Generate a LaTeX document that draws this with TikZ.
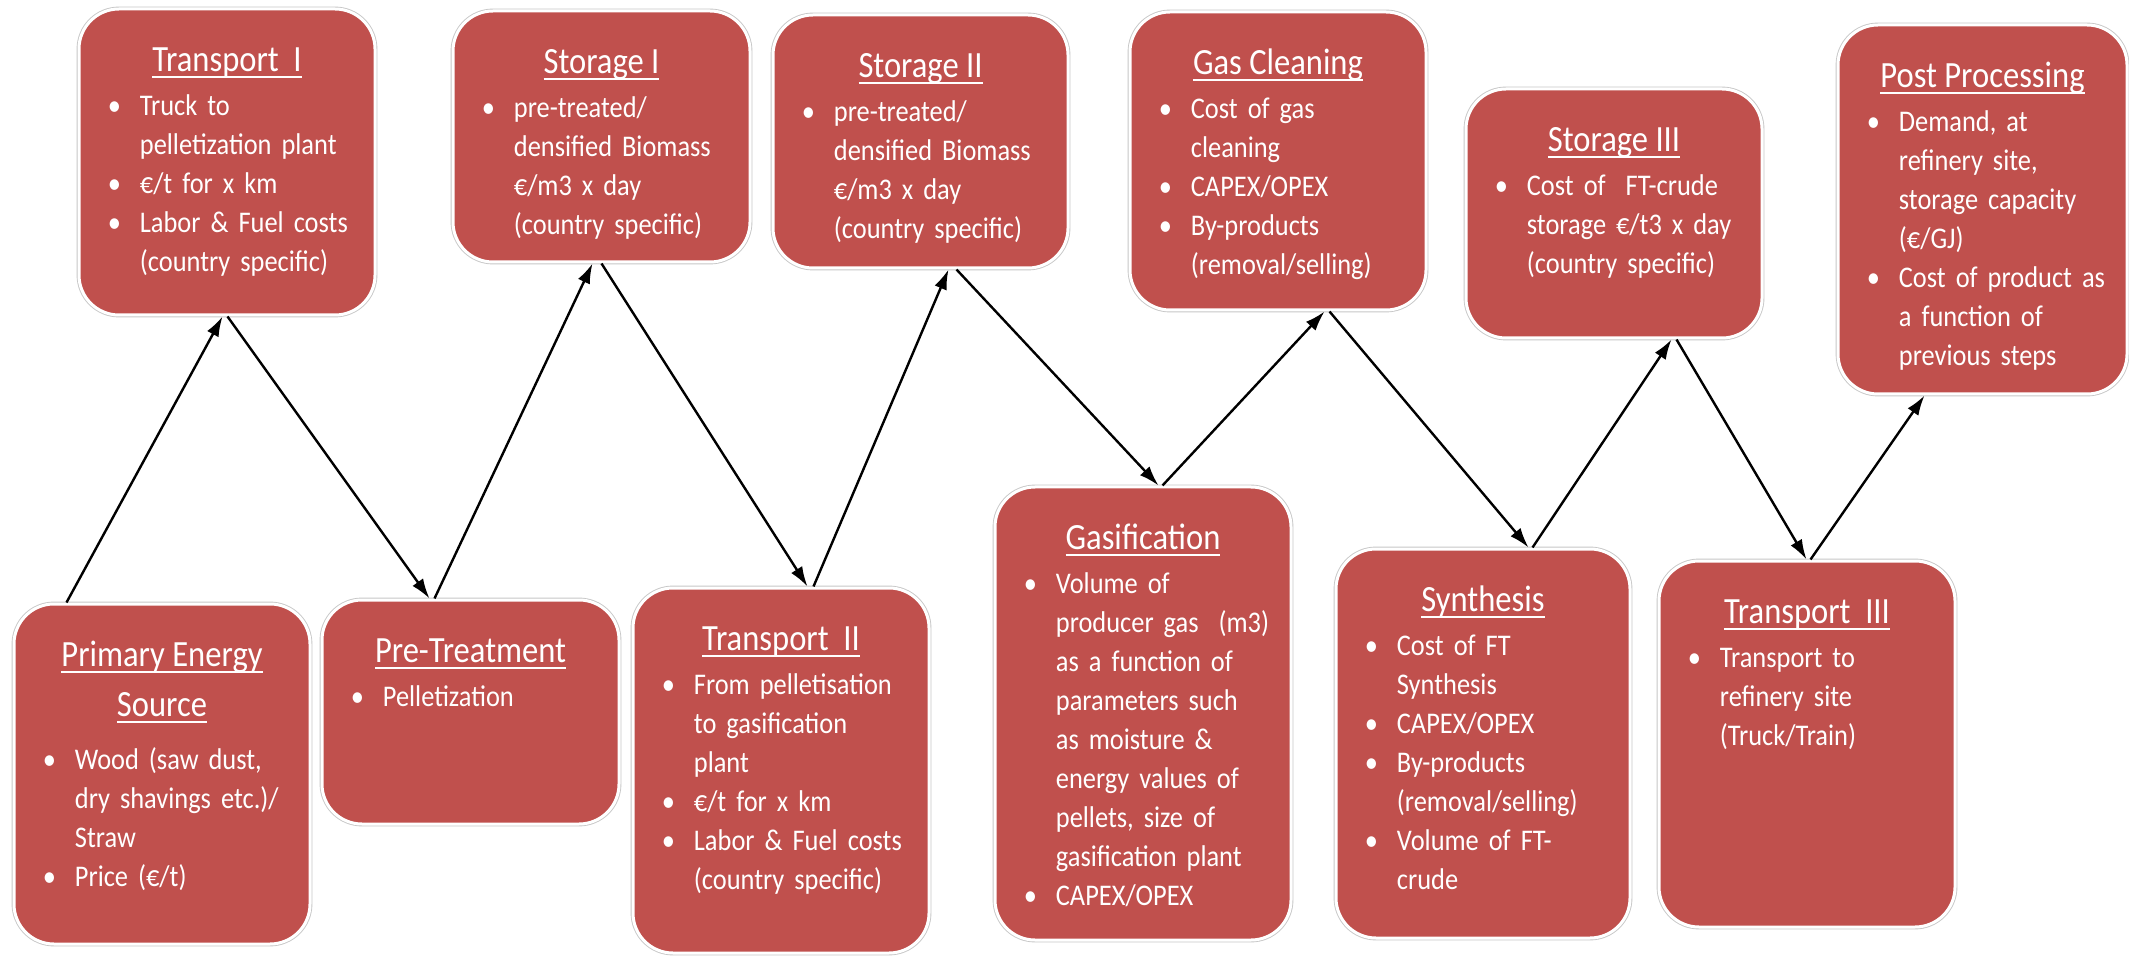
\documentclass[tikz,border=0pt]{standalone}
\usepackage{fontspec}
\setmainfont{Carlito}[FakeStretch=0.88]
\usetikzlibrary{arrows.meta,calc}
\definecolor{boxred}{HTML}{C0504D}
\newcommand{\uln}[1]{\setbox0\hbox{#1}\rlap{\rule[-3pt]{\wd0}{1pt}}\box0}
\newcommand{\bit}[1]{\par\noindent\makebox[16pt][l]{\strut•}\parbox[t]{120pt}{\strut#1\strut}\par\prevdepth=\dp\strutbox}
\tikzset{
  box/.style={draw=white, line width=1.5pt, fill=boxred, rounded corners=20pt,
    preaction={draw=black!22, line width=2.4pt}, inner sep=0pt},
  ttl/.style={text=white, font=\fontsize{18.5pt}{25pt}\selectfont, anchor=north, inner sep=0pt, align=center},
  body/.style={text=white, font=\fontsize{15pt}{19.5pt}\selectfont, anchor=north west, inner sep=0pt, text width=136pt, align=left},
  arr/.style={-{Latex[length=10pt,width=6.5pt]}, line width=1.2pt, black}
}
\begin{document}
\begin{tikzpicture}[x=0.5pt,y=-0.5pt]
\useasboundingbox (0,0) rectangle (2129,956);
% boxes
\node[box, minimum width=148pt, minimum height=170pt] (pes) at (162,774) {};
\node[box, minimum width=148pt, minimum height=153pt] (t1) at (227,162) {};
\node[box, minimum width=148.5pt, minimum height=112pt] (pt) at (470.5,712) {};
\node[box, minimum width=148.5pt, minimum height=125.5pt] (s1) at (601.5,136.5) {};
\node[box, minimum width=148pt, minimum height=182.5pt] (t2) at (781,770.5) {};
\node[box, minimum width=147.5pt, minimum height=126.5pt] (s2) at (920.5,141.5) {};
\node[box, minimum width=148pt, minimum height=226.5pt] (gas) at (1143,713.5) {};
\node[box, minimum width=148pt, minimum height=149pt] (gc) at (1278,161) {};
\node[box, minimum width=147pt, minimum height=194.5pt] (syn) at (1483,743.5) {};
\node[box, minimum width=148pt, minimum height=124.5pt] (s3) at (1614,213.5) {};
\node[box, minimum width=148pt, minimum height=183pt] (t3) at (1807,744) {};
\node[box, minimum width=144.5pt, minimum height=184.5pt] (pp) at (1982.5,209.5) {};
% titles
\node[ttl] (pesT) at ($(pes.north)+(0,29)$) {\strut\uln{Primary Energy}\\\strut\uln{Source}};
\node[ttl] (t1T) at ($(t1.north)+(0,29)$) {\strut\uln{Transport\ \ I}};
\node[ttl] (ptT) at ($(pt.north)+(0,29)$) {\strut\uln{Pre-Treatment}};
\node[ttl] (s1T) at ($(s1.north)+(0,29)$) {\strut\uln{Storage I}};
\node[ttl] (t2T) at ($(t2.north)+(0,29)$) {\strut\uln{Transport\ \ II}};
\node[ttl] (s2T) at ($(s2.north)+(0,29)$) {\strut\uln{Storage II}};
\node[ttl] (gasT) at ($(gas.north)+(0,29)$) {\strut\uln{Gasification}};
\node[ttl] (gcT) at ($(gc.north)+(0,29)$) {\strut\uln{Gas Cleaning}};
\node[ttl] (synT) at ($(syn.north)+(0,29)$) {\strut\uln{Synthesis}};
\node[ttl] (s3T) at ($(s3.north)+(0,29)$) {\strut\uln{Storage III}};
\node[ttl] (t3T) at ($(t3.north)+(0,29)$) {\strut\uln{Transport\ \ III}};
\node[ttl] (ppT) at ($(pp.north)+(0,29)$) {\strut\uln{Post Processing}};
% bodies
\node[body] (pesB) at ($(pes.north west)+(30,128)$) {\bit{Wood (saw dust,\\dry shavings etc.)/\\Straw}\bit{Price (€/t)}};
\node[body] (t1B) at ($(t1.north west)+(30,69)$) {\bit{Truck to\\pelletization plant}\bit{€/t for x km}\bit{Labor \& Fuel costs\\(country specific)}};
\node[body] (ptB) at ($(pt.north west)+(30,69)$) {\bit{Pelletization}};
\node[body] (s1B) at ($(s1.north west)+(30,69)$) {\bit{pre-treated/\\densified Biomass\\€/m3 x day\\(country specific)}};
\node[body] (t2B) at ($(t2.north west)+(30,69)$) {\bit{From pelletisation\\to gasification\\plant}\bit{€/t for x km}\bit{Labor \& Fuel costs\\(country specific)}};
\node[body] (s2B) at ($(s2.north west)+(30,69)$) {\bit{pre-treated/\\densified Biomass\\€/m3 x day\\(country specific)}};
\node[body] (gasB) at ($(gas.north west)+(30,69)$) {\bit{Volume of\\producer gas\ \ (m3)\\as a function of\\parameters such\\as moisture \&\\energy values of\\pellets, size of\\gasification plant}\bit{CAPEX/OPEX}};
\node[body] (gcB) at ($(gc.north west)+(30,69)$) {\bit{Cost of gas\\cleaning}\bit{CAPEX/OPEX}\bit{By-products\\(removal/selling)}};
\node[body] (synB) at ($(syn.north west)+(30,69)$) {\bit{Cost of FT\\Synthesis}\bit{CAPEX/OPEX}\bit{By-products\\(removal/selling)}\bit{Volume of FT-\\crude}};
\node[body] (s3B) at ($(s3.north west)+(30,69)$) {\bit{Cost of\ \ FT-crude\\storage €/t3 x day\\(country specific)}};
\node[body] (t3B) at ($(t3.north west)+(30,69)$) {\bit{Transport to\\refinery site\\(Truck/Train)}};
\node[body] (ppB) at ($(pp.north west)+(30,69)$) {\bit{Demand, at\\refinery site,\\storage capacity\\(€/GJ)}\bit{Cost of product as\\a function of\\previous steps}};
% connectors
\draw[arr] ($(pes.north west)+(54,0)$) -- ($(t1.south west)+(145,0)$);
\draw[arr] ($(t1.south west)+(150,0)$) -- ($(pt.north west)+(109,0)$);
\draw[arr] ($(pt.north west)+(114,0)$) -- ($(s1.south west)+(141,0)$);
\draw[arr] ($(s1.south west)+(150,0)$) -- ($(t2.north west)+(176,0)$);
\draw[arr] ($(t2.north west)+(182,0)$) -- ($(s2.south west)+(177,0)$);
\draw[arr] ($(s2.south west)+(185,0)$) -- ($(gas.north west)+(165,0)$);
\draw[arr] ($(gas.north west)+(169,0)$) -- ($(gc.south west)+(196,0)$);
\draw[arr] ($(gc.south west)+(201,0)$) -- ($(syn.north west)+(194,0)$);
\draw[arr] ($(syn.north west)+(198,0)$) -- ($(s3.south west)+(207,0)$);
\draw[arr] ($(s3.south west)+(212,0)$) -- ($(t3.north west)+(149,0)$);
\draw[arr] ($(t3.north west)+(153,0)$) -- ($(pp.south west)+(88,0)$);
\end{tikzpicture}
\end{document}
